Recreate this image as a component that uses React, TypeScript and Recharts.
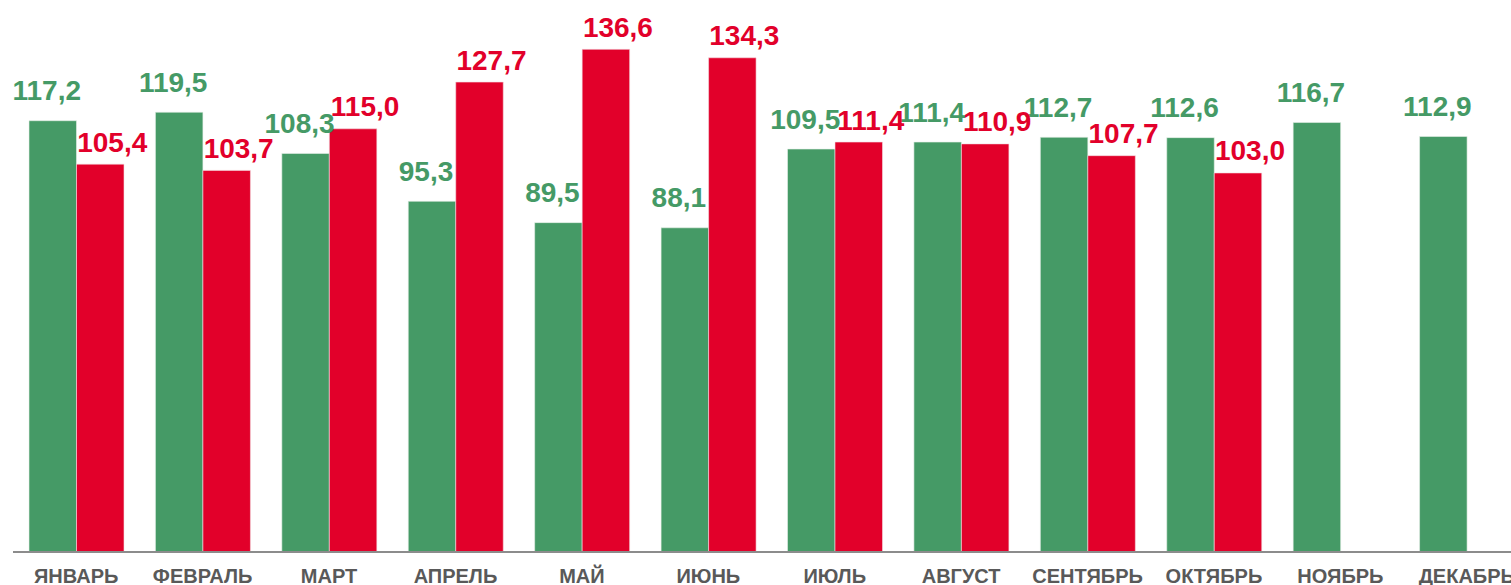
import { BarChart, Bar, XAxis, YAxis, LabelList } from "recharts";

const MONTHS = ["ЯНВАРЬ", "ФЕВРАЛЬ", "МАРТ", "АПРЕЛЬ", "МАЙ", "ИЮНЬ", "ИЮЛЬ", "АВГУСТ", "СЕНТЯБРЬ", "ОКТЯБРЬ", "НОЯБРЬ", "ДЕКАБРЬ"];
const GREEN_VALUES = [117.2, 119.5, 108.3, 95.3, 89.5, 88.1, 109.5, 111.4, 112.7, 112.6, 116.7, 112.9];
const RED_VALUES: (number | null)[] = [105.4, 103.7, 115.0, 127.7, 136.6, 134.3, 111.4, 110.9, 107.7, 103.0, null, null];

const GREEN = "#459a66";
const RED = "#e2002a";

const data = MONTHS.map((m, i) => ({ m, a: GREEN_VALUES[i], b: RED_VALUES[i] }));

const fmt = (v: number) => v.toFixed(1).replace(".", ",");

// value labels sit above the bars; green nudged left, red right so neighbours don't collide
function makeLabel(color: string, dx: number, dy: number) {
  return (p: any) => {
    if (p.value == null) return null;
    return (
      <text
        x={Number(p.x) + Number(p.width) / 2 + dx}
        y={Number(p.y) - dy}
        textAnchor="middle"
        dominantBaseline="central"
        fill={color}
        fontSize={28}
        fontWeight={700}
        fontFamily="'Liberation Sans', Arial, sans-serif"
      >
        {fmt(Number(p.value))}
      </text>
    );
  };
}

function MonthTick({ x, y, payload }: any) {
  return (
    <text
      x={x}
      y={y + 24}
      textAnchor="middle"
      dominantBaseline="central"
      fill="#595959"
      fontSize={20}
      fontWeight={700}
      fontFamily="'Liberation Sans', Arial, sans-serif"
    >
      {payload.value}
    </text>
  );
}

export default function App() {
  return (
    <div style={{ position: "absolute", left: 0, top: 0, width: 1511, height: 585, overflow: "hidden", background: "#fff" }}>
      <BarChart width={1530} height={585} data={data} margin={{ top: 0, right: 0, left: 13, bottom: 0 }} barGap={0}>
        <XAxis
          dataKey="m"
          height={33}
          tickLine={false}
          tickSize={0}
          tickMargin={0}
          axisLine={{ stroke: "#8c8c8c", strokeWidth: 2 }}
          tick={<MonthTick />}
          interval={0}
        />
        <YAxis hide domain={[0, 150]} />
        <Bar dataKey="a" fill={GREEN} stroke="#e8f0ea" strokeWidth={0.6} barSize={47.5} isAnimationActive={false}>
          <LabelList dataKey="a" content={makeLabel(GREEN, -6, 30)} />
        </Bar>
        <Bar dataKey="b" fill={RED} stroke="#f4dde2" strokeWidth={0.6} barSize={47.5} isAnimationActive={false}>
          <LabelList dataKey="b" content={makeLabel(RED, 12, 22)} />
        </Bar>
      </BarChart>
    </div>
  );
}
